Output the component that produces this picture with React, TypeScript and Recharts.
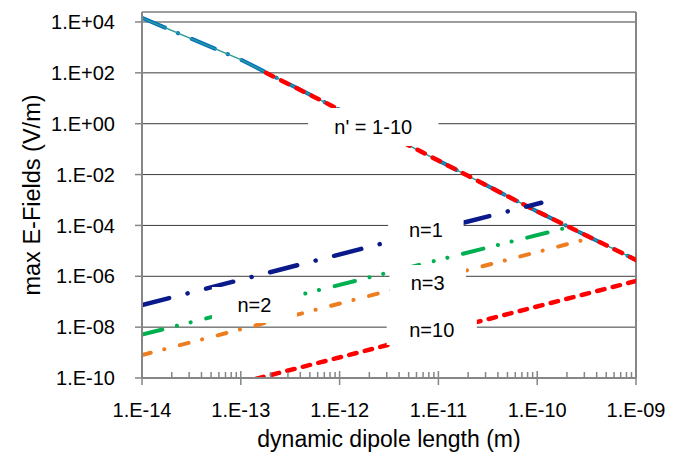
import React from "react";
import {
  LineChart,
  Line,
  XAxis,
  YAxis,
  CartesianGrid,
  ReferenceArea,
  ReferenceLine,
  Label,
} from "recharts";

// ---- data ----
const nPrimeLength = [1e-14, 1e-13, 1e-12, 1e-11, 1e-10, 1e-9];
const nPrimeField = [1.45e4, 3.3e2, 3.55, 3.55e-2, 3.55e-4, 4.4e-6];
const nPrimeRedLength = [1.8e-13, 1e-12, 1e-11, 1e-10, 1e-9];
const nPrimeRedField = [1.0e2, 3.55, 3.55e-2, 3.55e-4, 4.4e-6];
const n1Length = [1e-14, 1.1e-10];
const n1Field = [7.4e-8, 7.8e-4];
const n2Length = [1e-14, 2.2e-10];
const n2Field = [5.1e-9, 9e-5];
const n3Length = [1e-14, 3.4e-10];
const n3Field = [8e-10, 3.1e-5];
const n10Length = [1e-13, 1e-9];
const n10Field = [6.5e-11, 6.5e-7];

// ---- ticks ----
const xMajorTicks = [1e-14, 1e-13, 1e-12, 1e-11, 1e-10, 1e-9];
const xMinorMultipliers = [2, 3, 4, 5, 6, 7, 8, 9];
const yTicks = [1e-10, 1e-8, 1e-6, 1e-4, 1e-2, 1, 1e2, 1e4];

// ---- annotation labels ----
const labelTexts = ["n' = 1-10", "n=1", "n=2", "n=3", "n=10"];
const labelX1 = [4.8e-13, 3.1e-12, 5.1e-14, 3.2e-12, 3.0e-12];
const labelX2 = [1.0e-11, 1.8e-11, 3.7e-13, 1.9e-11, 2.45e-11];
const labelY1 = [1.33e-1, 1.3e-5, 1.46e-8, 1.17e-7, 2.0e-9];
const labelY2 = [4.1, 3.4e-4, 3.8e-7, 2.8e-6, 3.3e-8];

const xMinorTicks = xMajorTicks
  .slice(0, -1)
  .flatMap((d) => xMinorMultipliers.map((m) => m * d));
const xAllTicks = [...xMajorTicks, ...xMinorTicks].sort((a, b) => a - b);

const pts = (xs: number[], ys: number[]) => xs.map((x, i) => ({ x, y: ys[i] }));

const fmt = (v: number) => {
  const e = Math.round(Math.log10(v));
  const s = e < 0 ? "-" : "+";
  return `1.E${s}${String(Math.abs(e)).padStart(2, "0")}`;
};

const isMajor = (v: number) =>
  xMajorTicks.some((t) => Math.abs(v / t - 1) < 1e-6);

const FONT = "'Liberation Sans', Arial, sans-serif";
const AXIS = "#868686";

const XTick = (props: any) => {
  const { x, y, payload } = props;
  const v = payload.value;
  const major = isMajor(v);
  return (
    <g>
      <line
        x1={x}
        x2={x}
        y1={y - (major ? 7 : 6)}
        y2={major ? y + 7 : y}
        stroke={AXIS}
        strokeWidth={1.5}
      />
      {major && (
        <text
          x={x}
          y={y + 39}
          textAnchor="middle"
          fontSize={20}
          fill="#000"
          fontFamily={FONT}
        >
          {fmt(v)}
        </text>
      )}
    </g>
  );
};

export default function App() {
  return (
    <LineChart
      width={664}
      height={451}
      margin={{ top: 4, right: 36, left: 0, bottom: 0 }}
      style={{ fontFamily: FONT, overflow: "visible" }}
    >
      <CartesianGrid vertical={false} stroke="#3c3c3c" strokeWidth={1} />
      <XAxis
        dataKey="x"
        type="number"
        scale="log"
        domain={[1e-14, 1e-9]}
        allowDataOverflow
        ticks={xAllTicks}
        interval={0}
        tick={(p: any) => <XTick {...p} />}
        tickLine={false}
        tickSize={0}
        tickMargin={0}
        axisLine={{ stroke: AXIS, strokeWidth: 2 }}
        height={81}
      >
        <Label
          content={(props: any) => {
            const vb = props.viewBox || {};
            const cx = vb.x + vb.width / 2;
            const cy = vb.y + 69;
            return (
              <text
                x={cx}
                y={cy}
                textAnchor="middle"
                fontSize={23}
                fill="#000"
                fontFamily={FONT}
              >
                dynamic dipole length (m)
              </text>
            );
          }}
        />
      </XAxis>
      <YAxis
        dataKey="y"
        type="number"
        scale="log"
        domain={[1e-10, 2.47e4]}
        allowDataOverflow
        ticks={yTicks}
        interval={0}
        tickFormatter={fmt}
        tick={{ fontSize: 20, fill: "#000", fontFamily: FONT }}
        tickSize={7}
        tickMargin={20}
        tickLine={{ stroke: AXIS, strokeWidth: 1.5 }}
        axisLine={{ stroke: AXIS, strokeWidth: 2 }}
        width={134}
      >
        <Label
          content={(props: any) => {
            const vb = props.viewBox || {};
            const cx = vb.x + 24;
            const cy = vb.y + vb.height / 2;
            return (
              <text
                x={cx}
                y={cy}
                transform={`rotate(-90 ${cx} ${cy})`}
                textAnchor="middle"
                dominantBaseline="central"
                fontSize={23.5}
                fill="#000"
                fontFamily={FONT}
              >
                max E-Fields (V/m)
              </text>
            );
          }}
        />
      </YAxis>
      <ReferenceLine x={1e-9} stroke={AXIS} strokeWidth={2} />

      <Line
        data={pts(nPrimeLength, nPrimeField)}
        dataKey="y"
        stroke="#0070C0"
        strokeWidth={4}
        strokeDasharray="25 14 0.1 15"
        strokeLinecap="round"
        dot={false}
        isAnimationActive={false}
      />
      <Line
        data={pts(nPrimeLength, nPrimeField)}
        dataKey="y"
        stroke="#2E9A9A"
        strokeWidth={1.5}
        dot={false}
        isAnimationActive={false}
      />
      <Line
        data={pts(nPrimeRedLength, nPrimeRedField)}
        dataKey="y"
        stroke="#FF0000"
        strokeWidth={4.5}
        strokeDasharray="8 9"
        strokeLinecap="round"
        dot={false}
        isAnimationActive={false}
      />
      <Line
        data={pts(n1Length, n1Field)}
        dataKey="y"
        stroke="#0A1A8A"
        strokeWidth={4.5}
        strokeDasharray="28 19 0.1 19"
        strokeLinecap="round"
        dot={false}
        isAnimationActive={false}
      />
      <Line
        data={pts(n2Length, n2Field)}
        dataKey="y"
        stroke="#00B050"
        strokeWidth={4}
        strokeDasharray="21 15 0.1 14 0.1 16"
        strokeLinecap="round"
        dot={false}
        isAnimationActive={false}
      />
      <Line
        data={pts(n3Length, n3Field)}
        dataKey="y"
        stroke="#EE7D1F"
        strokeWidth={4}
        strokeDasharray="9 14 0.1 16"
        strokeLinecap="round"
        dot={false}
        isAnimationActive={false}
      />
      <Line
        data={pts(n10Length, n10Field)}
        dataKey="y"
        stroke="#FF0000"
        strokeWidth={4.5}
        strokeDasharray="7.5 8.5"
        strokeLinecap="round"
        dot={false}
        isAnimationActive={false}
      />

      {labelTexts.map((t, i) => (
        <ReferenceArea
          key={t}
          x1={labelX1[i]}
          x2={labelX2[i]}
          y1={labelY1[i]}
          y2={labelY2[i]}
          fill="#ffffff"
          fillOpacity={1}
          stroke="none"
          {...({ zIndex: 1500 } as any)}
          label={{
            value: t,
            position: "center",
            fontSize: 20,
            fill: "#000",
            fontFamily: FONT,
          }}
        />
      ))}
    </LineChart>
  );
}
